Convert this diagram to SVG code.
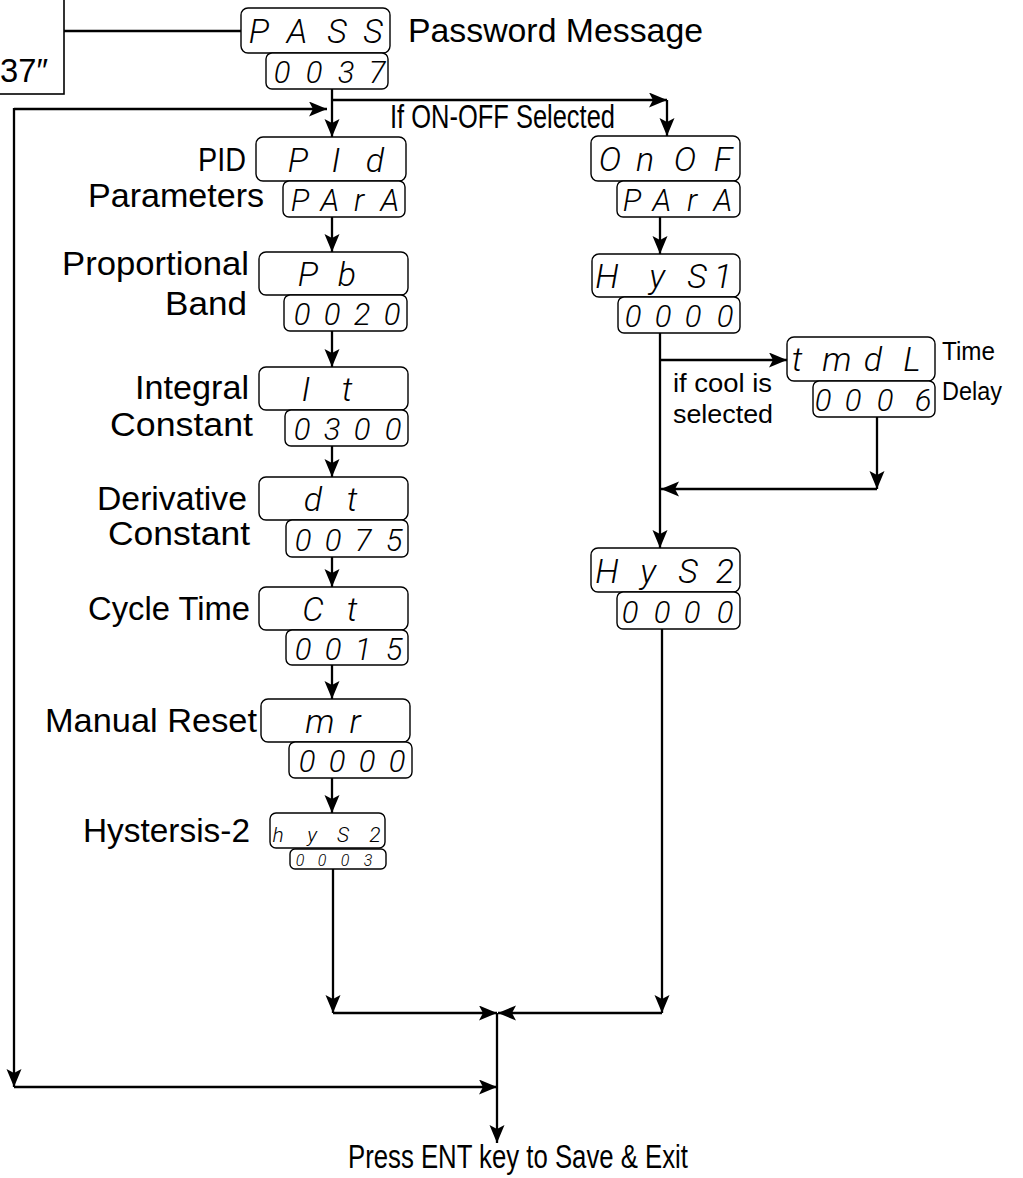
<svg xmlns="http://www.w3.org/2000/svg" width="1023" height="1178" viewBox="0 0 1023 1178">
<style>
.box{fill:#fff;stroke:#000;stroke-width:1.4}
.seg{font-family:'Roboto','Liberation Sans',sans-serif;font-style:italic;font-weight:300;text-anchor:middle;fill:#000}
.big{font-size:34px}
.val{font-size:31px}
.lbl{font-family:'Liberation Sans',Arial,sans-serif;font-size:33px;fill:#000}
.sm{font-size:25px}
.ln{stroke:#000;stroke-width:2.3;fill:none}
</style>
<defs>
<marker id="ah" markerUnits="userSpaceOnUse" markerWidth="20" markerHeight="16" refX="18" refY="7.5" orient="auto">
<path d="M0,0 L18,7.5 L0,15 L4,7.5 z" fill="#000"/>
</marker>
</defs>
<rect width="1023" height="1178" fill="#fff"/>

<g id="connectors">
<line class="ln" x1="64" y1="31" x2="241" y2="31"/>
<line class="ln" x1="332" y1="89" x2="332" y2="137" marker-end="url(#ah)"/>
<line class="ln" x1="332" y1="100" x2="667" y2="100" marker-end="url(#ah)"/>
<line class="ln" x1="667" y1="100" x2="667" y2="136" marker-end="url(#ah)"/>
<line class="ln" x1="14" y1="109" x2="327" y2="109" marker-end="url(#ah)"/>
<line class="ln" x1="14" y1="108" x2="14" y2="1087" marker-end="url(#ah)"/>
<line class="ln" x1="14" y1="1087" x2="497" y2="1087" marker-end="url(#ah)"/>
<line class="ln" x1="332" y1="217" x2="332" y2="252" marker-end="url(#ah)"/>
<line class="ln" x1="332" y1="331" x2="332" y2="367" marker-end="url(#ah)"/>
<line class="ln" x1="332" y1="446" x2="332" y2="477" marker-end="url(#ah)"/>
<line class="ln" x1="332" y1="557" x2="332" y2="587" marker-end="url(#ah)"/>
<line class="ln" x1="332" y1="665" x2="332" y2="699" marker-end="url(#ah)"/>
<line class="ln" x1="332" y1="778" x2="332" y2="813" marker-end="url(#ah)"/>
<line class="ln" x1="333" y1="869" x2="333" y2="1013" marker-end="url(#ah)"/>
<line class="ln" x1="333" y1="1013" x2="497" y2="1013" marker-end="url(#ah)"/>
<line class="ln" x1="660" y1="217" x2="660" y2="254" marker-end="url(#ah)"/>
<line class="ln" x1="660" y1="333" x2="660" y2="548" marker-end="url(#ah)"/>
<line class="ln" x1="660" y1="360" x2="787" y2="360" marker-end="url(#ah)"/>
<line class="ln" x1="877" y1="417" x2="877" y2="489" marker-end="url(#ah)"/>
<line class="ln" x1="877" y1="489" x2="661" y2="489" marker-end="url(#ah)"/>
<line class="ln" x1="662" y1="629" x2="662" y2="1013" marker-end="url(#ah)"/>
<line class="ln" x1="662" y1="1013" x2="498" y2="1013" marker-end="url(#ah)"/>
<line class="ln" x1="497" y1="1013" x2="497" y2="1143" marker-end="url(#ah)"/>
</g>

<g id="code-box">
<rect x="-10" y="-10" width="74" height="104" fill="#fff" stroke="#000" stroke-width="1.6"/>
<text class="lbl" x="0" y="82" font-size="31" textLength="48" lengthAdjust="spacingAndGlyphs">37″</text>
</g>

<g id="pass">
<rect class="box" x="241" y="8" width="149" height="45" rx="7"/>
<text class="seg big" x="259 297 337 373" y="43">PASS</text>
<rect class="box" x="266" y="53" width="122" height="36" rx="6"/>
<text class="seg val" x="282 314 346 377" y="83">0037</text>
<text class="lbl" x="408" y="42" textLength="295" lengthAdjust="spacingAndGlyphs">Password Message</text>
</g>

<g id="pid">
<rect class="box" x="256" y="137" width="150" height="44" rx="7"/>
<text class="seg big" x="298 336 375" y="172">PId</text>
<rect class="box" x="283" y="181" width="122" height="36" rx="6"/>
<text class="seg val" x="300 330 359 390" y="211">PArA</text>
<text class="lbl" x="198" y="171" textLength="48" lengthAdjust="spacingAndGlyphs">PID</text>
<text class="lbl" x="88" y="207" textLength="176" lengthAdjust="spacingAndGlyphs">Parameters</text>
</g>

<g id="pb">
<rect class="box" x="259" y="252" width="149" height="43" rx="7"/>
<text class="seg big" x="308 347" y="286">Pb</text>
<rect class="box" x="284" y="295" width="123" height="36" rx="6"/>
<text class="seg val" x="302 332 362 392" y="325">0020</text>
<text class="lbl" x="62" y="275" textLength="187" lengthAdjust="spacingAndGlyphs">Proportional</text>
<text class="lbl" x="165" y="315" textLength="82" lengthAdjust="spacingAndGlyphs">Band</text>
</g>

<g id="it">
<rect class="box" x="259" y="367" width="149" height="43" rx="7"/>
<text class="seg big" x="306 347" y="401">It</text>
<rect class="box" x="285" y="410" width="123" height="36" rx="6"/>
<text class="seg val" x="302 332 362 393" y="440">0300</text>
<text class="lbl" x="135" y="399" textLength="114" lengthAdjust="spacingAndGlyphs">Integral</text>
<text class="lbl" x="110" y="436" textLength="143" lengthAdjust="spacingAndGlyphs">Constant</text>
</g>

<g id="dt">
<rect class="box" x="259" y="477" width="149" height="43" rx="7"/>
<text class="seg big" x="313 352" y="511">dt</text>
<rect class="box" x="286" y="520" width="122" height="37" rx="6"/>
<text class="seg val" x="303 333 363 394" y="551">0075</text>
<text class="lbl" x="97" y="510" font-size="29" textLength="150" lengthAdjust="spacingAndGlyphs">Derivative</text>
<text class="lbl" x="108" y="545" font-size="29" textLength="142" lengthAdjust="spacingAndGlyphs">Constant</text>
</g>

<g id="ct">
<rect class="box" x="259" y="587" width="149" height="43" rx="7"/>
<text class="seg big" x="313 352" y="621">Ct</text>
<rect class="box" x="286" y="630" width="122" height="35" rx="6"/>
<text class="seg val" x="303 333 363 394" y="660">0015</text>
<text class="lbl" x="88" y="620" textLength="162" lengthAdjust="spacingAndGlyphs">Cycle Time</text>
</g>

<g id="mr">
<rect class="box" x="261" y="699" width="149" height="43" rx="7"/>
<text class="seg big" x="320 355" y="733">mr</text>
<rect class="box" x="289" y="742" width="123" height="36" rx="6"/>
<text class="seg val" x="307 337 367 397" y="772">0000</text>
<text class="lbl" x="45" y="732" textLength="212" lengthAdjust="spacingAndGlyphs">Manual Reset</text>
</g>

<g id="hys2-left">
<rect class="box" x="270" y="813" width="115" height="35" rx="6"/>
<text class="seg" font-size="21" x="278 312 343 375" y="842">hyS2</text>
<rect class="box" x="290" y="849" width="96" height="20" rx="5"/>
<text class="seg" font-size="16" x="300 322 345 368" y="866">0003</text>
<text class="lbl" x="83" y="842" textLength="167" lengthAdjust="spacingAndGlyphs">Hystersis-2</text>
</g>

<g id="onof">
<rect class="box" x="591" y="136" width="149" height="45" rx="7"/>
<text class="seg big" x="610 645 685 723" y="171">OnOF</text>
<rect class="box" x="617" y="181" width="123" height="36" rx="6"/>
<text class="seg val" x="632 662 692 723" y="211">PArA</text>
<text class="lbl" x="390" y="128" font-size="26" textLength="225" lengthAdjust="spacingAndGlyphs">If ON-OFF Selected</text>
</g>

<g id="hys1">
<rect class="box" x="592" y="254" width="148" height="43" rx="7"/>
<text class="seg big" x="607 657 697 723" y="288">HyS1</text>
<rect class="box" x="618" y="297" width="122" height="36" rx="6"/>
<text class="seg val" x="633 663 693 725" y="327">0000</text>
</g>

<g id="tmdl">
<rect class="box" x="787" y="337" width="148" height="44" rx="7"/>
<text class="seg big" x="797 837 873 912" y="371">tmdL</text>
<rect class="box" x="813" y="381" width="122" height="36" rx="6"/>
<text class="seg val" x="823 853 885 923" y="411">0006</text>
<text class="lbl sm" x="942" y="360" textLength="53" lengthAdjust="spacingAndGlyphs">Time</text>
<text class="lbl sm" x="942" y="400" textLength="60" lengthAdjust="spacingAndGlyphs">Delay</text>
<text class="lbl sm" x="673" y="392" textLength="99" lengthAdjust="spacingAndGlyphs">if cool is</text>
<text class="lbl sm" x="673" y="423" textLength="100" lengthAdjust="spacingAndGlyphs">selected</text>
</g>

<g id="hys2-right">
<rect class="box" x="591" y="548" width="149" height="44" rx="7"/>
<text class="seg big" x="607 648 688 725" y="583">HyS2</text>
<rect class="box" x="617" y="592" width="123" height="37" rx="6"/>
<text class="seg val" x="630 662 692 725" y="623">0000</text>
</g>

<g id="exit">
<text class="lbl" x="348" y="1168" font-size="30" textLength="340" lengthAdjust="spacingAndGlyphs">Press ENT key to Save &amp; Exit</text>
</g>
</svg>
